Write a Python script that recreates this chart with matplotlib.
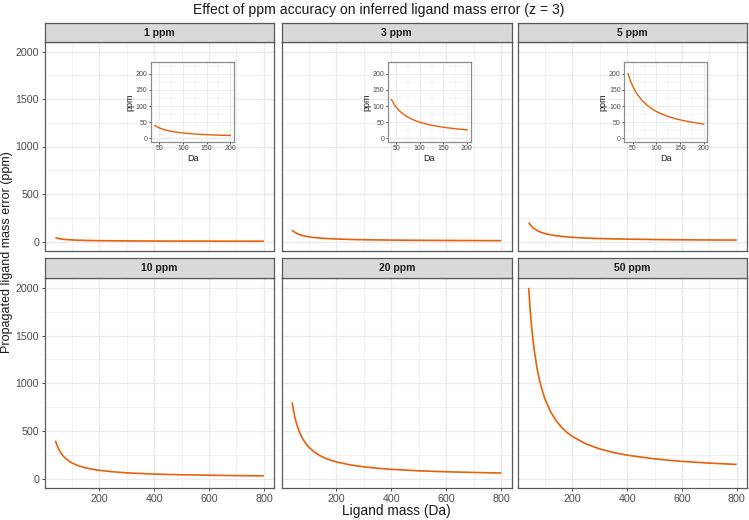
import matplotlib
matplotlib.use("Agg")
import matplotlib.pyplot as plt
from matplotlib.ticker import MultipleLocator

plt.rcParams['font.family'] = ['Liberation Sans', 'DejaVu Sans']

# ligand mass (Da) sampled along the curves
mass = [40, 45, 50, 55, 60, 70, 80, 90, 100, 120, 140, 160, 180, 200,
        250, 300, 350, 400, 500, 600, 700, 800]

# propagated ligand mass error (ppm)
err_1 = [40, 35.7, 32.2, 29.4, 27.0, 23.3, 20.5, 18.4, 16.6, 14.0, 12.2,
         10.8, 9.7, 8.8, 7.3, 6.2, 5.5, 4.9, 4.2, 3.7, 3.3, 3.0]
err_3 = [120, 107, 96.6, 88.1, 81.1, 69.9, 61.6, 55.1, 49.9, 42.1, 36.5,
         32.4, 29.1, 26.5, 21.8, 18.7, 16.5, 14.8, 12.5, 11.0, 9.8, 9.0]
err_5 = [200, 178, 161, 147, 135, 117, 103, 92, 83, 70, 61, 54, 49, 44,
         36, 31, 27.5, 25, 21, 18, 16, 15]
err_10 = [400, 357, 322, 294, 270, 233, 205, 184, 166, 140, 122, 108, 97,
          88, 73, 62, 55, 49, 42, 37, 33, 30]
err_20 = [800, 713, 644, 588, 540, 466, 411, 367, 333, 281, 244, 216, 194,
          177, 146, 125, 110, 99, 83, 73, 66, 60]
err_50 = [2000, 1784, 1611, 1469, 1351, 1165, 1026, 918, 832, 702, 609,
          539, 485, 442, 364, 312, 275, 247, 208, 182, 164, 150]

facet_labels = ["1 ppm", "3 ppm", "5 ppm", "10 ppm", "20 ppm", "50 ppm"]
facet_errors = [err_1, err_3, err_5, err_10, err_20, err_50]

LINE = "#E8600A"
GRID = "#EBEBEB"
BORDER = "#595959"
TICKTXT = "#4D4D4D"

W, H = 749, 520
fig = plt.figure(figsize=(W / 100, H / 100), dpi=100)


def box(x0, y0, x1, y1):
    # pixel box (top-left origin) -> figure fraction rect
    return [x0 / W, 1 - y1 / H, (x1 - x0) / W, (y1 - y0) / H]


def style_axes(ax, fs, ticklen, grid_lw, border=BORDER, pad=2.0):
    ax.set_facecolor("white")
    for s in ax.spines.values():
        s.set_color(border)
        s.set_linewidth(0.9)
    ax.grid(True, which="major", color=GRID, lw=grid_lw)
    ax.grid(True, which="minor", color=GRID, lw=grid_lw * 0.5)
    ax.set_axisbelow(True)
    ax.tick_params(which="major", colors="#333333", labelcolor=TICKTXT,
                   labelsize=fs, length=ticklen, width=0.6, pad=pad)
    ax.tick_params(which="minor", length=0)


cols = [(45, 274.3), (281.7, 511.7), (518.3, 747)]
rows = [(23, 42, 251), (258.3, 278.3, 488.3)]

for i, (lab, err) in enumerate(zip(facet_labels, facet_errors)):
    r, c = divmod(i, 3)
    x0, x1 = cols[c]
    st, sb, pb = rows[r]

    ax = fig.add_axes(box(x0, sb, x1, pb))
    ax.plot(mass, err, color=LINE, lw=1.2, solid_capstyle="butt")
    ax.set_xlim(2, 838)
    ax.set_ylim(-100, 2100)
    ax.xaxis.set_major_locator(MultipleLocator(200))
    ax.xaxis.set_minor_locator(MultipleLocator(100))
    ax.yaxis.set_major_locator(MultipleLocator(500))
    ax.yaxis.set_minor_locator(MultipleLocator(250))
    ax.set_xticks([200, 400, 600, 800])
    style_axes(ax, 7.7, 2.2, 1.0)
    if c > 0:
        ax.tick_params(axis="y", labelleft=False, length=0)
    if r == 0:
        ax.tick_params(axis="x", labelbottom=False, length=0)

    # facet strip
    sax = fig.add_axes(box(x0, st, x1, sb))
    sax.set_facecolor("#D9D9D9")
    sax.set_xticks([])
    sax.set_yticks([])
    for s in sax.spines.values():
        s.set_color(BORDER)
        s.set_linewidth(0.9)
    sax.text(0.5, 0.5, lab, ha="center", va="center", fontsize=7.5,
             fontweight="bold", color="#1A1A1A", transform=sax.transAxes)

    if r == 0:
        # white background behind the inset and its labels
        bx0 = x0 + 81
        bg = fig.add_axes(box(bx0, 55, bx0 + 114, 166))
        bg.set_facecolor("white")
        bg.axis("off")
        bg.patch.set_visible(True)

        ix0 = x0 + 106
        ins = fig.add_axes(box(ix0, 62, ix0 + 83, 142))
        sel = [(m, e) for m, e in zip(mass, err) if m <= 200]
        ins.plot([m for m, _ in sel], [e for _, e in sel], color=LINE, lw=1.0)
        ins.set_xlim(32, 208)
        ins.set_ylim(-11.25, 236.25)
        ins.set_xticks([50, 100, 150, 200])
        ins.xaxis.set_minor_locator(MultipleLocator(25))
        ins.set_yticks([0, 50, 100, 150, 200])
        ins.yaxis.set_minor_locator(MultipleLocator(25))
        style_axes(ins, 5, 1.5, 0.7, border="#8C8C8C", pad=1)
        ins.set_xlabel("Da", fontsize=6.5, labelpad=1, color="#1A1A1A")
        ins.set_ylabel("ppm", fontsize=6.5, labelpad=1, color="#1A1A1A")

fig.text(0.505, 1 - 10 / H, "Effect of ppm accuracy on inferred ligand mass error (z = 3)",
         ha="center", va="center", fontsize=10.1, color="#1A1A1A")
fig.text(396 / W, 1 - 511 / H, "Ligand mass (Da)", ha="center", va="center",
         fontsize=9.9, color="#1A1A1A")
fig.text(7 / W, 1 - 252 / H, "Propagated ligand mass error (ppm)", ha="center",
         va="center", rotation=90, fontsize=9.0, color="#1A1A1A")

fig.savefig("out.png", dpi=100)
